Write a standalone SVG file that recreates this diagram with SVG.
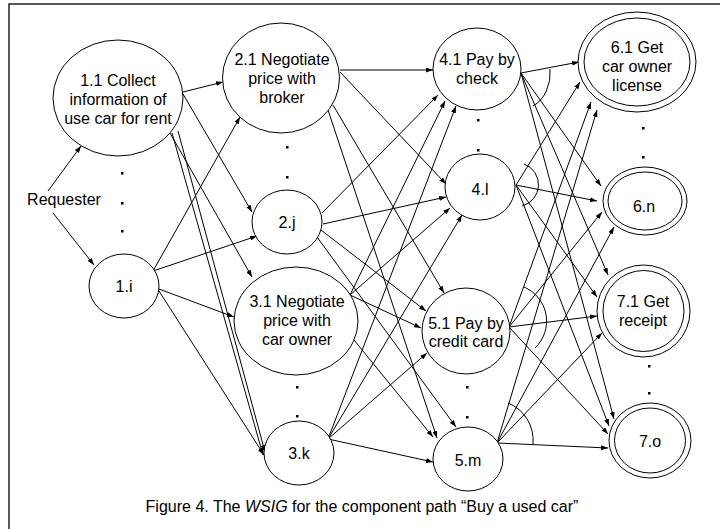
<svg xmlns="http://www.w3.org/2000/svg" width="720" height="529" viewBox="0 0 720 529">
<style>
.n{fill:#fff;stroke:#000;stroke-width:1}
.t{font-family:"Liberation Sans",Arial,sans-serif;font-size:16px;fill:#000;text-anchor:middle}
.e{fill:none;stroke:#000;stroke-width:1;marker-end:url(#ah)}
.arc{fill:none;stroke:#000;stroke-width:1}
.d{fill:#000}
</style>
<defs>
<marker id="ah" markerWidth="7" markerHeight="5" refX="7" refY="2.5" orient="auto" markerUnits="userSpaceOnUse">
<path d="M0,0 L7,2.5 L0,5 z" fill="#000"/>
</marker>
</defs>
<rect x="0" y="0" width="720" height="529" fill="#fff"/>
<rect x="9" y="4" width="760" height="600" fill="none" stroke="#000" stroke-width="1.3"/>

<g id="connectors">
<!-- requester -->
<line class="e" x1="48" y1="191" x2="81" y2="146"/>
<line class="e" x1="53" y1="213" x2="94" y2="265"/>
<!-- 1.1 -->
<line class="e" x1="183" y1="92" x2="223" y2="82"/>
<line class="e" x1="183" y1="94" x2="252" y2="212"/>
<line class="e" x1="170" y1="133" x2="252" y2="277"/>
<line class="e" x1="172" y1="133" x2="263" y2="455"/>
<line class="e" x1="178" y1="131" x2="265" y2="452"/>
<!-- 1.i -->
<line class="e" x1="153" y1="271" x2="240" y2="117"/>
<line class="e" x1="153" y1="271" x2="257" y2="236"/>
<line class="e" x1="159" y1="289" x2="234" y2="317"/>
<line class="e" x1="159" y1="291" x2="264" y2="455"/>
<!-- 2.1 -->
<line class="e" x1="340" y1="70" x2="433" y2="70"/>
<line class="e" x1="340" y1="72" x2="446" y2="184"/>
<line class="e" x1="333" y1="105" x2="444" y2="293"/>
<line class="e" x1="328" y1="110" x2="437" y2="438"/>
<!-- 2.j -->
<line class="e" x1="322" y1="213" x2="438" y2="95"/>
<line class="e" x1="323" y1="224" x2="446" y2="197"/>
<line class="e" x1="321" y1="230" x2="426" y2="311"/>
<line class="e" x1="317" y1="237" x2="456" y2="427"/>
<!-- 3.1 -->
<line class="e" x1="350" y1="295" x2="445" y2="101"/>
<line class="e" x1="350" y1="295" x2="450" y2="208"/>
<line class="e" x1="350" y1="295" x2="421" y2="328"/>
<line class="e" x1="354" y1="340" x2="433" y2="437"/>
<!-- 3.k -->
<line class="e" x1="328" y1="439" x2="456" y2="106"/>
<line class="e" x1="328" y1="439" x2="462" y2="215"/>
<line class="e" x1="328" y1="439" x2="427" y2="353"/>
<line class="e" x1="328" y1="439" x2="433" y2="462"/>
<!-- 4.1 -->
<line class="e" x1="521" y1="73" x2="579" y2="62"/>
<line class="e" x1="521" y1="73" x2="601" y2="186"/>
<line class="e" x1="521" y1="73" x2="608" y2="275"/>
<line class="e" x1="521" y1="73" x2="614" y2="419"/>
<!-- 4.l -->
<line class="e" x1="516" y1="185" x2="580" y2="82"/>
<line class="e" x1="516" y1="185" x2="597" y2="201"/>
<line class="e" x1="516" y1="185" x2="597" y2="297"/>
<line class="e" x1="516" y1="185" x2="609" y2="426"/>
<!-- 5.1 -->
<line class="e" x1="509" y1="327" x2="591" y2="102"/>
<line class="e" x1="509" y1="327" x2="602" y2="212"/>
<line class="e" x1="509" y1="327" x2="597" y2="316"/>
<line class="e" x1="509" y1="327" x2="608" y2="434"/>
<!-- 5.m -->
<line class="e" x1="497" y1="443" x2="597" y2="110"/>
<line class="e" x1="497" y1="443" x2="614" y2="227"/>
<line class="e" x1="497" y1="443" x2="602" y2="333"/>
<line class="e" x1="497" y1="443" x2="608" y2="448"/>
<!-- AND-join arcs -->
<path class="arc" d="M550,69 A29 36 0 0 1 533,106"/>
<path class="arc" d="M524,164 A22 22 0 0 1 522,206"/>
<path class="arc" d="M524,287 A37 37 0 0 1 535,348"/>
<path class="arc" d="M508,403 A39 40 0 0 1 533,444"/>
</g>

<g id="requester"><text class="t" x="64" y="205">Requester</text></g>

<g id="n1_1"><ellipse class="n" cx="118" cy="98" rx="65" ry="58"/>
<text class="t" x="118" y="86">1.1 Collect</text><text class="t" x="118" y="105">information of</text><text class="t" x="118" y="124">use car for rent</text></g>
<g id="n1_i"><ellipse class="n" cx="124" cy="286" rx="35" ry="32"/><text class="t" x="124" y="292">1.i</text></g>

<g id="n2_1"><ellipse class="n" cx="281" cy="78" rx="58.5" ry="55"/>
<text class="t" x="282" y="65">2.1 Negotiate</text><text class="t" x="282" y="84">price with</text><text class="t" x="282" y="103">broker</text></g>
<g id="n2_j"><ellipse class="n" cx="287" cy="222" rx="35" ry="32"/><text class="t" x="287" y="228">2.j</text></g>
<g id="n3_1"><ellipse class="n" cx="296" cy="321" rx="62" ry="54"/>
<text class="t" x="297" y="307">3.1 Negotiate</text><text class="t" x="297" y="326">price with</text><text class="t" x="297" y="345">car owner</text></g>
<g id="n3_k"><ellipse class="n" cx="299" cy="453" rx="35" ry="32"/><text class="t" x="299" y="459">3.k</text></g>

<g id="n4_1"><ellipse class="n" cx="477" cy="69" rx="44" ry="41"/>
<text class="t" x="477" y="65">4.1 Pay by</text><text class="t" x="477" y="84">check</text></g>
<g id="n4_l"><ellipse class="n" cx="480" cy="187" rx="35" ry="33"/><text class="t" x="480" y="195">4.l</text></g>
<g id="n5_1"><ellipse class="n" cx="466" cy="331" rx="44" ry="43"/>
<text class="t" x="466" y="329">5.1 Pay by</text><text class="t" x="466" y="347">credit card</text></g>
<g id="n5_m"><ellipse class="n" cx="468" cy="459" rx="35" ry="32"/><text class="t" x="468" y="466">5.m</text></g>

<g id="n6_1"><ellipse class="n" cx="637" cy="62" rx="59" ry="50"/><ellipse class="n" cx="637" cy="62" rx="53" ry="44"/>
<text class="t" x="637" y="53">6.1 Get</text><text class="t" x="637" y="72">car owner</text><text class="t" x="637" y="91">license</text></g>
<g id="n6_n"><ellipse class="n" cx="645" cy="201" rx="42" ry="34"/><ellipse class="n" cx="645" cy="201" rx="37" ry="29"/><text class="t" x="644" y="212">6.n</text></g>
<g id="n7_1"><ellipse class="n" cx="643.5" cy="311" rx="46.5" ry="46"/><ellipse class="n" cx="643.5" cy="311" rx="40.5" ry="40.5"/>
<text class="t" x="643" y="307">7.1 Get</text><text class="t" x="643" y="326">receipt</text></g>
<g id="n7_o"><ellipse class="n" cx="650" cy="440.5" rx="41" ry="37.5"/><ellipse class="n" cx="650" cy="440.5" rx="35.5" ry="32.5"/><text class="t" x="650" y="447">7.o</text></g>

<g id="ellipsis-dots">
<rect class="d" x="121" y="172" width="2.5" height="2.5"/><rect class="d" x="121" y="202" width="2.5" height="2.5"/><rect class="d" x="121" y="230" width="2.5" height="2.5"/>
<rect class="d" x="286" y="146" width="2.5" height="2.5"/><rect class="d" x="286" y="176" width="2.5" height="2.5"/>
<rect class="d" x="296" y="386" width="2.5" height="2.5"/><rect class="d" x="296" y="415" width="2.5" height="2.5"/>
<rect class="d" x="477" y="119" width="2.5" height="2.5"/><rect class="d" x="477" y="149" width="2.5" height="2.5"/>
<rect class="d" x="466" y="386" width="2.5" height="2.5"/><rect class="d" x="466" y="416" width="2.5" height="2.5"/>
<rect class="d" x="642" y="127" width="2.5" height="2.5"/><rect class="d" x="642" y="156" width="2.5" height="2.5"/>
<rect class="d" x="648" y="365" width="2.5" height="2.5"/><rect class="d" x="648" y="392" width="2.5" height="2.5"/>
</g>

<g id="caption"><text x="362" y="512" style="font-family:'Liberation Sans',Arial,sans-serif;font-size:16px;text-anchor:middle">Figure 4. The <tspan font-style="italic">WSIG</tspan> for the component path “Buy a used car”</text></g>
</svg>
